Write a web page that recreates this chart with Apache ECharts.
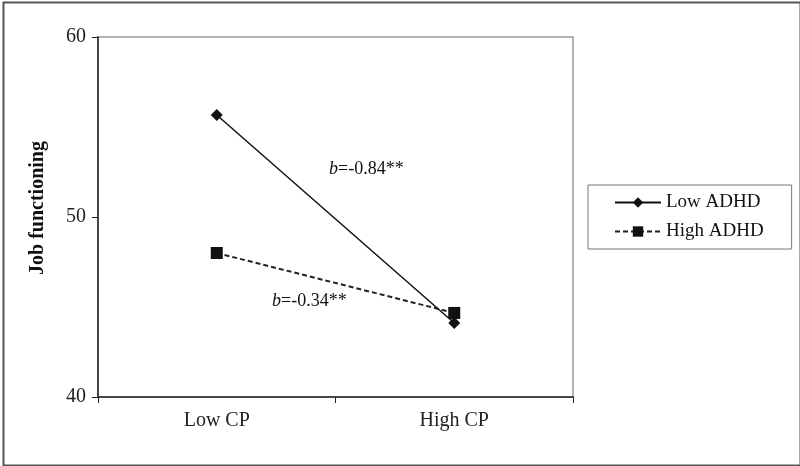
<!DOCTYPE html>
<html><head><meta charset="utf-8">
<script src="https://cdn.jsdelivr.net/npm/echarts@6/dist/echarts.min.js"></script>
<style>html,body{margin:0;padding:0;background:#fff}#c{width:800px;height:466px}</style>
</head><body><div id="c"></div>
<script>
var categories = ['Low CP', 'High CP'];
var lowADHD = [55.67, 44.11];
var highADHD = [48.0, 44.67];
var yTicks = [40, 50, 60];
var seriesNames = ['Low ADHD', 'High ADHD'];
var annotations = ['-0.84**', '-0.34**'];

var chart = echarts.init(document.getElementById('c'), null, {renderer: 'canvas'});
var font = '"Liberation Serif", "Times New Roman", serif';
chart.setOption({
  animation: false,
  backgroundColor: '#fff',
  textStyle: {fontFamily: font},
  grid: {left: 98, right: 227, top: 37, bottom: 69, show: true, borderColor: '#999', borderWidth: 1.5},
  xAxis: {
    type: 'category', data: categories, boundaryGap: true,
    axisLine: {lineStyle: {color: '#222', width: 1.5}},
    axisTick: {show: true, length: 6, lineStyle: {color: '#222'}},
    axisLabel: {color: '#222', fontSize: 20, fontFamily: font, margin: 14}
  },
  yAxis: {
    type: 'value', min: yTicks[0], max: yTicks[yTicks.length - 1], interval: 10,
    name: 'Job functioning', nameLocation: 'middle', nameGap: 50,
    nameTextStyle: {fontSize: 20, fontWeight: 'bold', fontFamily: font, color: '#111', padding: [0, 0, 0, 18]},
    axisLine: {show: true, lineStyle: {color: '#222', width: 1.5}},
    axisTick: {show: true, length: 6, lineStyle: {color: '#222'}},
    axisLabel: {color: '#222', fontSize: 20, fontFamily: font, margin: 12},
    splitLine: {show: false}
  },
  legend: {
    orient: 'vertical', left: 588, top: 185,
    padding: [8, 28, 8, 26], itemGap: 10,
    borderColor: '#777', borderWidth: 1,
    itemWidth: 46, itemHeight: 13,
    textStyle: {fontSize: 19, fontFamily: font, color: '#111'},
    data: seriesNames
  },
  series: [
    {
      name: seriesNames[0], type: 'line', data: lowADHD,
      symbol: 'diamond', symbolSize: 12,
      lineStyle: {color: '#111', width: 1.5},
      itemStyle: {color: '#111'}
    },
    {
      name: seriesNames[1], type: 'line', data: highADHD,
      symbol: 'rect', symbolSize: 12,
      lineStyle: {color: '#222', width: 2, type: [5, 3]},
      itemStyle: {color: '#111'}
    }
  ],
  graphic: [
    {type: 'rect', left: 1, top: 0, shape: {width: 797, height: 463}, style: {fill: 'none', stroke: '#555', lineWidth: 2}, silent: true},
    {type: 'text', left: 329, top: 160, style: {
      text: '{i|b}=' + annotations[0], rich: {i: {fontStyle: 'italic', fontFamily: font, fontSize: 18, fill: '#111'}},
      font: '18px ' + font, fill: '#111'}},
    {type: 'text', left: 272, top: 292, style: {
      text: '{i|b}=' + annotations[1], rich: {i: {fontStyle: 'italic', fontFamily: font, fontSize: 18, fill: '#111'}},
      font: '18px ' + font, fill: '#111'}}
  ]
});
</script></body></html>
